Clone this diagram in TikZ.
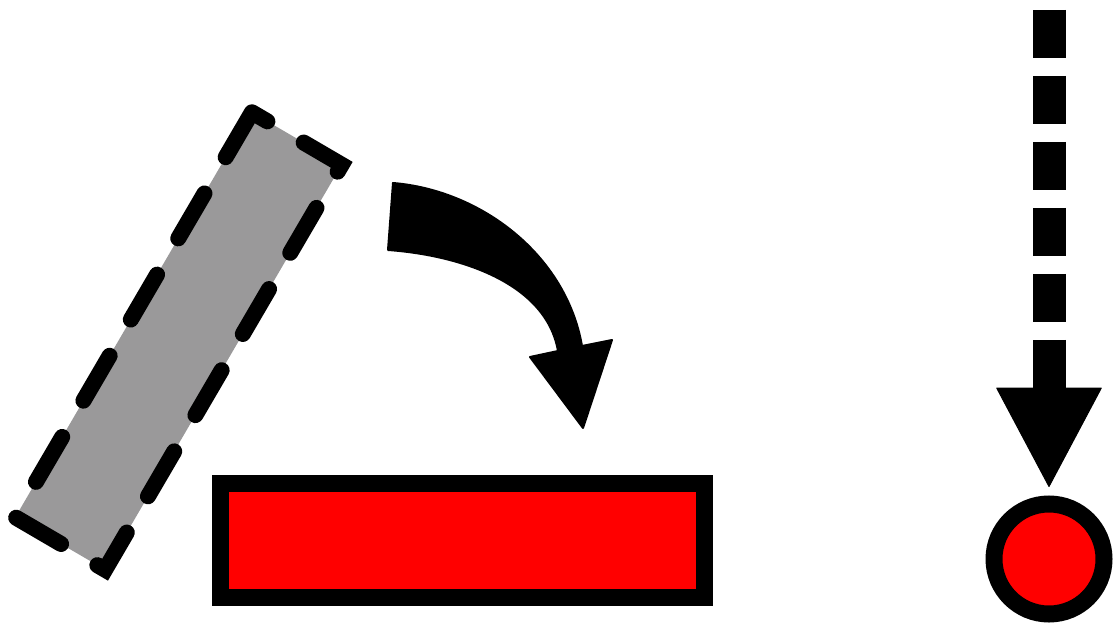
\documentclass[tikz,border=0pt]{standalone}
\definecolor{plankred}{HTML}{FF0000}
\definecolor{plankgray}{HTML}{9A999A}
\usetikzlibrary{arrows.meta}
\tikzset{
    tiltedplank/.style={
        draw=black,
        fill=plankgray,
        line width=16pt,
        line cap=round,
        dash pattern=on 52pt off 42pt,
        minimum width=469pt,
        minimum height=104pt,
        inner sep=0pt,
        rotate=59.7
    },
    flatplank/.style={
        draw=black,
        fill=plankred,
        line width=17pt,
        minimum width=484pt,
        minimum height=114pt,
        inner sep=0pt
    },
    ballnode/.style={
        circle,
        draw=black,
        fill=plankred,
        line width=17pt,
        minimum size=110pt,
        inner sep=0pt
    },
    droparrow/.style={
        -{Triangle[length=100pt,width=106pt,line width=1pt,round]},
        draw=black,
        line width=33pt,
        dash pattern=on 48pt off 18pt,
        shorten >=8.5pt
    },
    turnarrow/.style={
        fill=black,
        draw=black,
        line width=2pt,
        line join=round
    }
}

\begin{document}
\begin{tikzpicture}[x=1pt,y=-1pt]
    \useasboundingbox (0,0) rectangle (1114,628);

    \node[tiltedplank] (tilted) at (178.5,341) {};
    \node[flatplank] (flat) at (462.5,540) {};
    \node[ballnode] (ball) at (1049,559) {};

    % turning arrow between the two planks
    \filldraw[turnarrow] (393,183) .. controls (480,190) and (566,254) .. (582,346)
        -- (612,340) -- (583,428) -- (530,357) -- (558,351)
        .. controls (546,282) and (458,255) .. (388,250) -- cycle;

    \coordinate (drop) at (1049,10);
    \draw[droparrow] (drop) -- (ball.north);
\end{tikzpicture}
\end{document}
